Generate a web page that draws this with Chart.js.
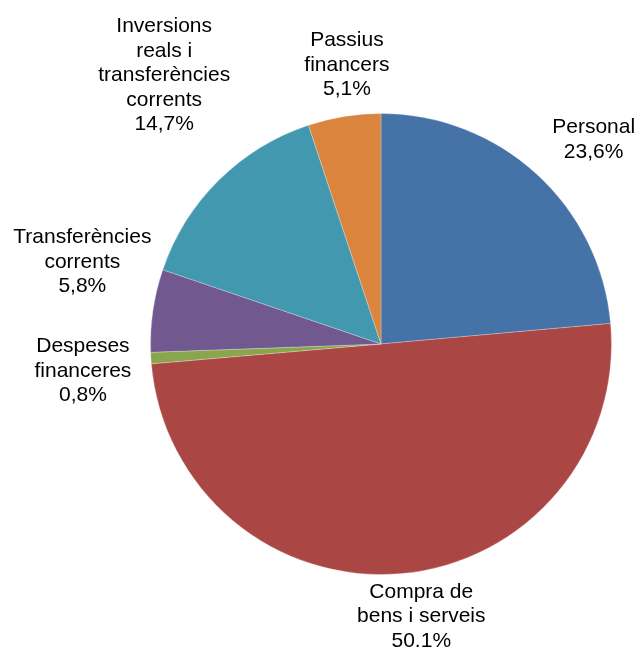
<!DOCTYPE html>
<html>
<head>
<meta charset="utf-8">
<script src="https://cdn.jsdelivr.net/npm/chart.js@4"></script>
<style>
html,body{margin:0;padding:0;background:#fff;}
#wrap{width:638px;height:648px;position:relative;}
</style>
</head>
<body>
<div id="wrap"><canvas id="c" width="638" height="648"></canvas></div>
<script>
const categories = [
  ["Personal"],
  ["Compra de", "bens i serveis"],
  ["Despeses", "financeres"],
  ["Transferències", "corrents"],
  ["Inversions", "reals i", "transferències", "corrents"],
  ["Passius", "financers"]
];
const values = [23.6, 50.1, 0.8, 5.8, 14.7, 5.1];
const valueLabels = ["23,6%", "50.1%", "0,8%", "5,8%", "14,7%", "5,1%"];
const colors = ["#4572A7", "#AA4643", "#89A54E", "#71588F", "#4198AF", "#DB843D"];
// label layout nudges (pixels) relative to an automatic radial anchor
const labelNudges = [[26, 0], [16, -3], [-22, 10], [-25, -42], [-22, -72], [10, -6]];

const labelPlugin = {
  id: 'outLabels',
  afterDatasetsDraw(chart) {
    const ctx = chart.ctx;
    const meta = chart.getDatasetMeta(0);
    ctx.save();
    ctx.font = '21px "Liberation Sans", Arial, sans-serif';
    ctx.fillStyle = '#000';
    ctx.textAlign = 'center';
    ctx.textBaseline = 'middle';
    const lh = 24.5;
    meta.data.forEach((arc, i) => {
      const p = arc.getProps(['x', 'y', 'startAngle', 'endAngle', 'outerRadius'], true);
      const mid = (p.startAngle + p.endAngle) / 2;
      const R = p.outerRadius * 1.2;
      const cx = p.x + Math.cos(mid) * R + labelNudges[i][0];
      const cy = p.y + Math.sin(mid) * R + labelNudges[i][1];
      const lines = categories[i].concat([valueLabels[i]]);
      const top = cy - (lines.length - 1) * lh / 2;
      lines.forEach((t, k) => ctx.fillText(t, cx, top + k * lh));
    });
    ctx.restore();
  }
};

new Chart(document.getElementById('c'), {
  type: 'pie',
  data: {
    labels: categories.map(c => c.join(' ')),
    datasets: [{
      data: values,
      backgroundColor: colors,
      borderColor: 'rgba(255,255,255,0.25)',
      borderWidth: 1
    }]
  },
  options: {
    responsive: false,
    animation: false,
    layout: { padding: { left: 150, right: 26, top: 113, bottom: 73 } },
    plugins: { legend: { display: false }, tooltip: { enabled: false } }
  },
  plugins: [labelPlugin]
});
</script>
</body>
</html>
